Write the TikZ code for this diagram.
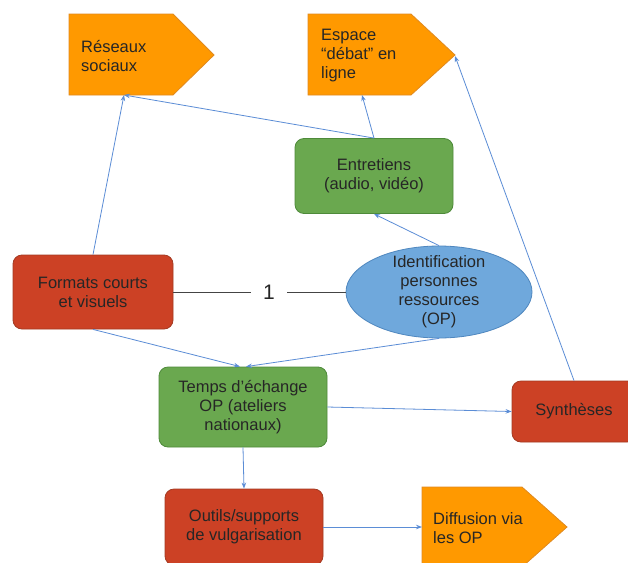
\documentclass[tikz,border=0pt]{standalone}
\usepackage{fontspec}
\setmainfont{Liberation Sans}
\usetikzlibrary{arrows.meta,shapes.geometric}
\definecolor{redF}{HTML}{CC4125}
\definecolor{redD}{HTML}{A33A22}
\definecolor{grnF}{HTML}{6AA84F}
\definecolor{grnD}{HTML}{4E8A3A}
\definecolor{orgF}{HTML}{FF9900}
\definecolor{orgD}{HTML}{E08A20}
\definecolor{bluF}{HTML}{6FA8DC}
\definecolor{bluD}{HTML}{4F87BF}
\definecolor{arr}{HTML}{5B8DD6}
\definecolor{txt}{HTML}{262626}
\definecolor{lnk}{HTML}{444444}
\begin{document}
\begin{tikzpicture}[x=1pt,y=-1pt,
  txtfont/.style={font=\fontsize{16.5}{19}\selectfont, text=txt},
  box/.style={draw, rounded corners=9pt, line width=0.8pt, align=center, txtfont, inner sep=0pt},
  redbox/.style={box, fill=redF, draw=redD},
  grnbox/.style={box, fill=grnF, draw=grnD},
  pent/.style={fill=orgF, draw=orgD, line width=0.8pt},
  lbl/.style={align=left, txtfont, inner sep=0pt},
  conn/.style={draw=arr, line width=0.8pt, -{Stealth[length=6pt,width=4.5pt]}}]

\path[use as bounding box] (0,0) rectangle (628,562);
\clip (0,0) rectangle (628,562);
\fill[white] (0,0) rectangle (628,562);

% pentagons
\path[pent] (69,14) -- (173,14) -- (214,55) -- (173,95) -- (69,95) -- cycle;
\node[lbl, anchor=west] (res) at (81,56) {Réseaux\\sociaux};
\coordinate (resB) at (124,95);

\path[pent] (308,14) -- (411,14) -- (455,55) -- (411,95) -- (308,95) -- cycle;
\node[lbl, anchor=west] (esp) at (321,56) {Espace\\“débat” en\\ligne};
\coordinate (espB) at (362,95);
\coordinate (espP) at (455,56);

\path[pent] (422,487) -- (522,487) -- (567,527) -- (522,567) -- (422,567) -- cycle;
\node[lbl, anchor=west] (dif) at (433,528) {Diffusion via\\les OP};
\coordinate (difW) at (422,527);

% boxes
\node[redbox, minimum width=160pt, minimum height=74pt] (fmt) at (93,292) {Formats courts\\et visuels};
\node[grnbox, minimum width=158pt, minimum height=75pt] (ent) at (374,176) {Entretiens\\(audio, vidéo)};
\node[grnbox, minimum width=168pt, minimum height=80pt] (tmp) at (243,407) {Temps d’échange\\OP (ateliers\\nationaux)};
\node[redbox, minimum width=124pt, minimum height=61pt] (syn) at (574,411.5) {Synthèses};
\node[redbox, minimum width=158pt, minimum height=76pt] (out) at (244,527) {Outils/supports\\de vulgarisation};

% ellipse
\node[ellipse, fill=bluF, draw=bluD, line width=0.8pt, minimum width=186pt, minimum height=92pt, inner sep=0pt] (ide) at (439,292) {};
\node[lbl, align=center] (idet) at (ide.center) {Identification\\personnes\\ressources\\(OP)};

% link with label
\draw[lnk, line width=0.8pt] (fmt.east) -- (ide.west)
  node[pos=0.555, fill=white, inner xsep=12pt, inner ysep=2pt, font=\fontsize{21}{21}\selectfont, text=txt] (one) {1};

% arrows
\draw[conn] (fmt.north) -- (resB);
\draw[conn] (ent.north) -- (resB);
\draw[conn] (ent.north) -- (espB);
\draw[conn] (ide.north) -- (ent.south);
\draw[conn] (syn.north) -- (espP);
\draw[conn] (fmt.south) -- ([xshift=-3pt]tmp.north);
\draw[conn] (ide.south) -- ([xshift=3pt]tmp.north);
\draw[conn] (tmp.east) -- (syn.west);
\draw[conn] (tmp.south) -- (out.north);
\draw[conn] (out.east) -- (difW);
\end{tikzpicture}
\end{document}
